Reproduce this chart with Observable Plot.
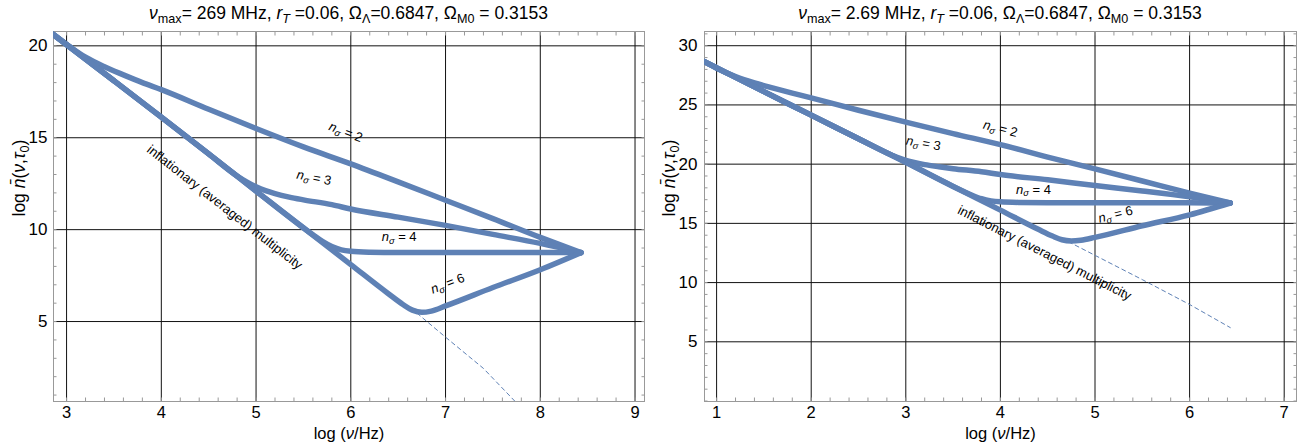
<!DOCTYPE html>
<html><head><meta charset="utf-8">
<script src="https://cdn.jsdelivr.net/npm/d3@7"></script>
<script src="https://cdn.jsdelivr.net/npm/@observablehq/plot@0.6"></script>
<style>
body{margin:0;background:#fff;font-family:"Liberation Sans",Arial,sans-serif;}
#wrap{display:flex;width:1314px;height:444px;}
.panel{width:657px;height:444px;position:relative;overflow:hidden}
.title{position:absolute;top:0;height:26px;line-height:26px;font-size:17.5px;text-align:center;white-space:nowrap;color:#000}
.title sub{font-size:0.72em;vertical-align:-0.3em;line-height:0}
.panel svg{position:absolute;top:26px;left:0}
</style></head><body>
<div id="wrap">
  <div class="panel" id="p1"><div class="title" style="left:53px;width:591px"><i>ν</i><sub>max</sub>= 269 MHz, <i>r<sub>T</sub></i> =0.06, Ω<sub>Λ</sub>=0.6847, Ω<sub>M0</sub> = 0.3153</div></div>
  <div class="panel" id="p2"><div class="title" style="left:47px;width:592px"><i>ν</i><sub>max</sub>= 2.69 MHz, <i>r<sub>T</sub></i> =0.06, Ω<sub>Λ</sub>=0.6847, Ω<sub>M0</sub> = 0.3153</div></div>
</div>
<script>
// ---------- Left panel (nu_max = 269 MHz) ----------
const L_xTicks = [3, 4, 5, 6, 7, 8, 9];
const L_yTicks = [5, 10, 15, 20];
const L_n2_x = [2.86, 3.0, 3.2, 3.4, 3.6, 3.8, 4.0, 4.5, 5.0, 5.5, 6.0, 6.5, 7.0, 7.5, 8.0, 8.43];
const L_n2_y = [20.62, 20.08, 19.38, 18.86, 18.42, 18.0, 17.62, 16.55, 15.5, 14.5, 13.58, 12.6, 11.6, 10.6, 9.58, 8.75];
const L_n3_x = [2.86, 3.5, 4.0, 4.5, 4.8, 4.9, 5.0, 5.1, 5.2, 5.35, 5.5, 5.8, 6.0, 6.5, 7.0, 7.5, 8.0, 8.43];
const L_n3_y = [20.62, 18.1, 16.12, 14.12, 12.92, 12.6, 12.33, 12.12, 11.96, 11.77, 11.62, 11.36, 11.12, 10.68, 10.23, 9.74, 9.25, 8.75];
const L_n4_x = [2.86, 3.5, 4.0, 4.5, 5.0, 5.5, 5.6, 5.7, 5.8, 5.9, 6.0, 6.2, 6.5, 7.0, 7.5, 8.0, 8.43];
const L_n4_y = [20.62, 18.1, 16.12, 14.12, 12.1, 10.1, 9.72, 9.36, 9.08, 8.9, 8.82, 8.77, 8.75, 8.75, 8.75, 8.75, 8.75];
const L_n6_x = [2.86, 3.5, 4.0, 4.5, 5.0, 5.5, 6.0, 6.4, 6.55, 6.65, 6.75, 6.85, 7.0, 7.5, 8.0, 8.43];
const L_n6_y = [20.62, 18.1, 16.12, 14.12, 12.1, 10.1, 8.1, 6.5, 5.93, 5.62, 5.5, 5.57, 5.85, 6.85, 7.82, 8.75];
const L_dash_x = [6.7, 7.0, 7.4, 7.8];
const L_dash_y = [5.45, 4.15, 2.45, 0.3];
const L_lab_text = ["nσ = 2", "nσ = 3", "nσ = 4", "nσ = 6", "inflationary (averaged) multiplicity"];
const L_lab_x = [5.947, 5.612, 6.51, 7.022, 4.669];
const L_lab_y = [15.30, 12.82, 9.59, 7.06, 11.21];

// ---------- Right panel (nu_max = 2.69 MHz) ----------
const R_xTicks = [1, 2, 3, 4, 5, 6, 7];
const R_yTicks = [5, 10, 15, 20, 25, 30];
const R_n2_x = [0.872, 1.0, 1.2, 1.4, 1.6, 1.8, 2.0, 2.5, 3.0, 3.5, 4.0, 4.5, 5.0, 5.5, 6.0, 6.43];
const R_n2_y = [28.65, 28.1, 27.4, 26.86, 26.42, 26.0, 25.6, 24.55, 23.55, 22.58, 21.65, 20.6, 19.6, 18.58, 17.55, 16.72];
const R_n3_x = [0.872, 1.5, 2.0, 2.5, 2.8, 2.9, 3.0, 3.1, 3.2, 3.35, 3.5, 3.8, 4.0, 4.5, 5.0, 5.5, 6.0, 6.43];
const R_n3_y = [28.65, 26.12, 24.14, 22.14, 20.94, 20.6, 20.32, 20.12, 19.96, 19.78, 19.62, 19.36, 19.12, 18.68, 18.2, 17.74, 17.24, 16.72];
const R_n4_x = [0.872, 1.5, 2.0, 2.5, 3.0, 3.5, 3.6, 3.7, 3.8, 3.9, 4.0, 4.2, 4.5, 5.0, 5.5, 6.0, 6.43];
const R_n4_y = [28.65, 26.12, 24.14, 22.14, 20.16, 18.12, 17.74, 17.38, 17.08, 16.9, 16.82, 16.77, 16.75, 16.75, 16.75, 16.74, 16.72];
const R_n6_x = [0.872, 1.5, 2.0, 2.5, 3.0, 3.5, 4.0, 4.4, 4.55, 4.65, 4.75, 4.85, 5.0, 5.5, 6.0, 6.43];
const R_n6_y = [28.65, 26.12, 24.14, 22.14, 20.16, 18.12, 16.12, 14.5, 13.93, 13.62, 13.52, 13.58, 13.82, 14.8, 15.72, 16.72];
const R_dash_x = [4.72, 5.0, 5.5, 6.0, 6.43];
const R_dash_y = [13.45, 12.3, 10.25, 8.15, 6.2];
const R_lab_text = ["nσ = 2", "nσ = 3", "nσ = 4", "nσ = 6", "inflationary (averaged) multiplicity"];
const R_lab_x = [4.0, 3.187, 4.35, 5.217, 4.466];
const R_lab_y = [22.99, 21.75, 17.86, 15.75, 12.5];

const xLabel = "log (ν/Hz)";
const yLabel = "log n̄(ν,τ0)";

// ---------- helpers ----------
const BLUE = "#5e81b5";
function series(name, xs, ys) { return xs.map((x, i) => ({s: name, x, y: ys[i]})); }
function minor(domain, step) {
  const out = [];
  for (let v = Math.ceil(domain[0] / step) * step; v <= domain[1] + 1e-9; v += step) out.push(+v.toFixed(3));
  return out;
}

function panel(cfg) {
  const curves = [].concat(...cfg.curves.map(c => series(c[0], c[1], c[2])));
  const dashed = series("d", cfg.dashX, cfg.dashY);
  const labels = cfg.labText.map((t, i) => ({t, x: cfg.labX[i], y: cfg.labY[i], r: cfg.labRot[i]}));
  const xMinor = minor(cfg.xDomain, 0.2);
  const yMinor = minor(cfg.yDomain, 1);
  const tickAxis = [];
  for (const a of ["bottom", "top"]) tickAxis.push(Plot.axisX(xMinor, {anchor: a, tickSize: -3.5, stroke: "#999", fill: "none"}));
  for (const a of ["left", "right"]) tickAxis.push(Plot.axisY(yMinor, {anchor: a, tickSize: -3.5, stroke: "#999", fill: "none"}));
  const svg = Plot.plot({
    width: 657, height: 418,
    marginLeft: cfg.ml, marginRight: cfg.mr, marginTop: 5, marginBottom: 43,
    style: {fontFamily: "Liberation Sans, Arial, sans-serif", fontSize: "16.5px", color: "#000", background: "white", overflow: "visible"},
    x: {domain: cfg.xDomain, axis: null},
    y: {domain: cfg.yDomain, axis: null},
    marks: [
      Plot.ruleX(cfg.xTicks, {stroke: "#111", strokeWidth: 1}),
      Plot.ruleY(cfg.yTicks, {stroke: "#111", strokeWidth: 1}),
      ...tickAxis,
      Plot.frame({stroke: "#999", strokeWidth: 1}),
      Plot.axisX(cfg.xTicks, {anchor: "bottom", tickSize: 0, tickPadding: 5, label: null}),
      Plot.axisY(cfg.yTicks, {anchor: "left", tickSize: 0, tickPadding: cfg.tp, label: null, fontSize: 17}),
      Plot.line(dashed, {x: "x", y: "y", stroke: BLUE, strokeWidth: 1, strokeDasharray: "4,3.5", clip: true}),
      Plot.line(curves, {x: "x", y: "y", z: "s", stroke: BLUE, strokeWidth: 5.5, curve: "monotone-x",
        strokeLinecap: "round", strokeLinejoin: "round", clip: true}),
      Plot.text(labels, {x: "x", y: "y", text: "t", rotate: "r", fontSize: 13, fill: "#000"}),
      Plot.text([xLabel], {text: d => d, frameAnchor: "bottom", dy: 37.5, fontSize: 16.5, fill: "#000"}),
      Plot.text([yLabel], {text: d => d, frameAnchor: "left", rotate: -90, dx: cfg.ydx, fontSize: 17.5, fill: "#000"})
    ]
  });
  d3.select(svg).selectAll("text").each(function () {
    const t = this.textContent;
    const m = /^nσ = (\d)$/.exec(t);
    if (m) {
      this.innerHTML = `<tspan font-style="italic">n</tspan><tspan font-style="italic" font-size="0.72em" dy="0.3em">σ</tspan><tspan dy="-0.22em"> = ${m[1]}</tspan>`;
    } else if (t === xLabel) {
      this.innerHTML = `log (<tspan font-style="italic">ν</tspan>/Hz)`;
    } else if (t === yLabel) {
      this.innerHTML = `log <tspan font-style="italic">n̄</tspan>(<tspan font-style="italic">ν</tspan>,<tspan font-style="italic">τ</tspan><tspan font-size="0.72em" dy="0.3em">0</tspan><tspan dy="-0.22em">)</tspan>`;
    }
  });
  return svg;
}

document.getElementById("p1").appendChild(panel({
  xDomain: [2.862, 9.10], yDomain: [0.65, 20.78], ml: 53, mr: 13, tp: 6, ydx: -34,
  xTicks: L_xTicks, yTicks: L_yTicks,
  curves: [["n2", L_n2_x, L_n2_y], ["n3", L_n3_x, L_n3_y], ["n4", L_n4_x, L_n4_y], ["n6", L_n6_x, L_n6_y]],
  dashX: L_dash_x, dashY: L_dash_y,
  labText: L_lab_text, labX: L_lab_x, labY: L_lab_y, labRot: [21, 11, 0, -21, 38]
}));
document.getElementById("p2").appendChild(panel({
  xDomain: [0.872, 7.13], yDomain: [-0.04, 31.2], ml: 47, mr: 18, tp: 7, ydx: -35,
  xTicks: R_xTicks, yTicks: R_yTicks,
  curves: [["n2", R_n2_x, R_n2_y], ["n3", R_n3_x, R_n3_y], ["n4", R_n4_x, R_n4_y], ["n6", R_n6_x, R_n6_y]],
  dashX: R_dash_x, dashY: R_dash_y,
  labText: R_lab_text, labX: R_lab_x, labY: R_lab_y, labRot: [14, 10, 0, -14, 27]
}));
</script></body></html>
